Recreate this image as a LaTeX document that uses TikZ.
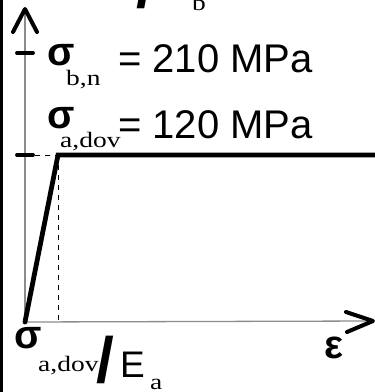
\documentclass[tikz,border=0pt]{standalone}
\usepackage{fontspec}
\setmainfont{Liberation Sans}
\newfontfamily\subfont{Liberation Serif}
\usetikzlibrary{calc}
\newcommand{\widesub}[1]{\scalebox{1.25}[1]{#1}}

\begin{document}
\begin{tikzpicture}[
    x=1pt, y=-1pt,
    % --- estilos ---
    ax/.style    = {draw=black!45, line width=1.3pt},
    tipline/.style = {draw=black, line width=4pt, line cap=round, line join=round},
    tick/.style  = {draw=black, line width=3.8pt, line cap=round},
    guide/.style = {draw=black, line width=0.7pt, dash pattern=on 5pt off 5pt},
    crv/.style   = {draw=black, line width=4.8pt, line cap=round},
    sym/.style   = {anchor=base west, inner sep=0pt, font=\fontsize{40}{42}\selectfont\bfseries},
    lbl/.style   = {anchor=base west, inner sep=0pt, font=\fontsize{40}{44}\selectfont},
    sub/.style   = {anchor=base west, inner sep=0pt, font=\fontsize{22}{24}\selectfont\subfont},
    bar/.style   = {anchor=base west, inner sep=0pt, font=\fontsize{64}{66}\selectfont\bfseries}
]
\useasboundingbox (0,0) rectangle (375,392);
\clip (0,0) rectangle (375,392);

% ===================== EJES =====================
\coordinate (O)    at (25,322);
\coordinate (ytop) at (25,9);
\coordinate (xtop) at (373,321);
\coordinate (Y)    at (58,155);
\coordinate (Yend) at (385,155);
\coordinate (tb)   at (25,53);
\coordinate (ta)   at (25,155);

\draw[ax] (O) -- (ytop);
\draw[ax] (O) -- (xtop);
\draw[tipline] ($(ytop)+(-12,23)$) -- (ytop) -- ($(ytop)+(12,23)$);
\draw[tipline] ($(xtop)+(-27,-9)$) -- (xtop) -- ($(xtop)+(-26,11)$);

% marcas en el eje de tensiones
\draw[tick] ($(tb)+(-8,0)$) -- ($(tb)+(8,0)$);
\draw[tick] ($(ta)+(-8,0)$) -- ($(ta)+(8,0)$);

% lineas auxiliares
\draw[guide] (ta) -- (Y);
\draw[guide] (Y) -- (Y |- O);

% ===================== CURVA =====================
\draw[crv] (O) -- (Y) -- (Yend);

% ===================== TEXTOS =====================
\node[sym] (sbn)  at (47,65)  {σ};
\node[sub] (sbnI) at (66,85)  {\widesub{b,n}};
\node[lbl] (vbn)  at (118,72) {= 210 MPa};

\node[sym] (sad)  at (47,128)  {σ};
\node[sub] (sadI) at (60,147)  {\widesub{a,dov}};
\node[lbl] (vad)  at (118,138) {= 120 MPa};

\node[sym] (sx)   at (14,348)  {σ};
\node[sub] (sxI)  at (38,371)  {\widesub{a,dov}};
\node[bar] (sl)   at (96,382)  {/};
\node[anchor=base west, inner sep=0pt, font=\fontsize{37}{40}\selectfont] (Ea) at (120,377) {E};
\node[anchor=base west, inner sep=0pt, font=\fontsize{22}{24}\selectfont\subfont] (EaI) at (150,389) {\widesub{a}};

\node[sym] (eps)  at (324,358) {ε};

% fragmentos recortados arriba
\node[bar] (slt)  at (136,7)  {/};
\node[sub] (bt)   at (192,10) {\widesub{b}};

% borde izquierdo
\draw[draw=black, line width=3pt] (1.5,0) -- (1.5,392);

\end{tikzpicture}
\end{document}
